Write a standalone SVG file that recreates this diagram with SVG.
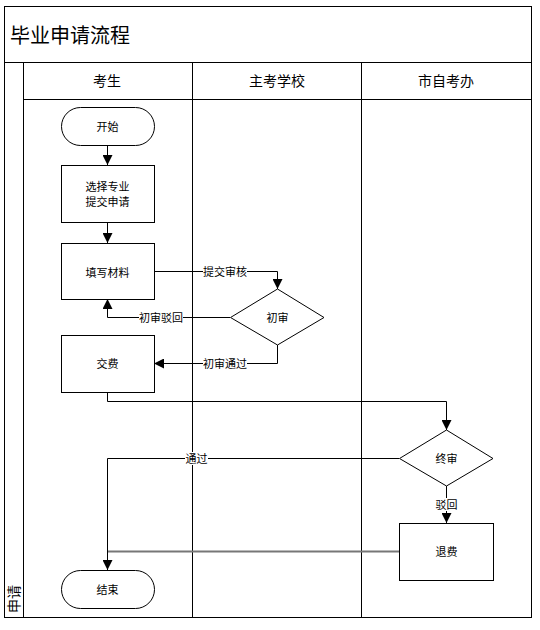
<svg xmlns="http://www.w3.org/2000/svg" width="540" height="630" viewBox="0 0 540 630">
<defs>
<marker id="arr" viewBox="0 0 10 10" refX="10" refY="5" markerWidth="10" markerHeight="10" markerUnits="userSpaceOnUse" orient="auto">
<path d="M0,0 L10,5 L0,10 Z" fill="#000"/>
</marker>
</defs>
<style>
text{font-family:"Noto Sans CJK SC","Liberation Sans",sans-serif;fill:#000}
.node{fill:#fff;stroke:#000;stroke-width:1}
.t{font-size:11px;text-anchor:middle;dominant-baseline:central}
.h{font-size:14px;text-anchor:middle;dominant-baseline:central}
.ln{fill:none;stroke:#000;stroke-width:1}
.lb{fill:#fff}
.frame{fill:none;stroke:#000;stroke-width:1}
</style>
<rect x="0" y="0" width="540" height="630" fill="#fff"/>
<g id="pool">
<rect class="frame" x="4.5" y="6.5" width="527" height="611" stroke-width="1.5"/>
<line class="frame" x1="4.5" y1="62.5" x2="531.5" y2="62.5"/>
<line class="frame" x1="23.5" y1="62.5" x2="23.5" y2="617.5"/>
<line class="frame" x1="23.5" y1="99.5" x2="531.5" y2="99.5"/>
<line class="frame" x1="192.5" y1="62.5" x2="192.5" y2="617.5"/>
<line class="frame" x1="361.5" y1="62.5" x2="361.5" y2="617.5"/>
<text x="10" y="34" font-size="20" dominant-baseline="central">毕业申请流程</text>
<text class="h" x="107" y="80">考生</text>
<text class="h" x="277" y="80">主考学校</text>
<text class="h" x="446" y="80">市自考办</text>
<text class="h" transform="translate(13,599) rotate(-90)">申请</text>
</g>
<g id="connectors">
<line class="ln" x1="107.5" y1="145" x2="107.5" y2="165" marker-end="url(#arr)"/>
<line class="ln" x1="107.5" y1="222" x2="107.5" y2="243" marker-end="url(#arr)"/>
<polyline class="ln" points="154,271.5 277.5,271.5 277.5,289" marker-end="url(#arr)"/>
<polyline class="ln" points="230,317.5 107.5,317.5 107.5,299" marker-end="url(#arr)"/>
<polyline class="ln" points="277.5,345 277.5,363.5 154,363.5" marker-end="url(#arr)"/>
<polyline class="ln" points="107.5,392 107.5,401.5 446.5,401.5 446.5,430" marker-end="url(#arr)"/>
<polyline class="ln" points="399,458.5 107.5,458.5 107.5,570" marker-end="url(#arr)"/>
<line class="ln" x1="446.5" y1="486" x2="446.5" y2="523" marker-end="url(#arr)"/>
<line x1="399" y1="551.5" x2="108" y2="551.5" stroke="#777" stroke-width="2"/>
<rect class="lb" x="203" y="265" width="44" height="13"/>
<text class="t" x="225" y="271">提交审核</text>
<rect class="lb" x="139" y="311" width="44" height="13"/>
<text class="t" x="161" y="317">初审驳回</text>
<rect class="lb" x="203" y="357" width="44" height="13"/>
<text class="t" x="225" y="363">初审通过</text>
<rect class="lb" x="185" y="452" width="23" height="13"/>
<text class="t" x="196.5" y="458">通过</text>
<rect class="lb" x="435" y="498" width="23" height="13"/>
<text class="t" x="446.5" y="504">驳回</text>
</g>
<g id="start">
<rect class="node" x="61.5" y="107.5" width="93" height="38" rx="19" ry="19"/>
<text class="t" x="107.5" y="126">开始</text>
</g>
<g id="select">
<rect class="node" x="61.5" y="165.5" width="93" height="57"/>
<text class="t" x="107.5" y="186">选择专业</text>
<text class="t" x="107.5" y="201">提交申请</text>
</g>
<g id="fill">
<rect class="node" x="61.5" y="243.5" width="93" height="56"/>
<text class="t" x="107.5" y="271.5">填写材料</text>
</g>
<g id="review1">
<polygon class="node" points="277.5,289 324,317.5 277.5,345 230.5,317.5"/>
<text class="t" x="277.5" y="317">初审</text>
</g>
<g id="pay">
<rect class="node" x="61.5" y="335.5" width="93" height="57"/>
<text class="t" x="107.5" y="363">交费</text>
</g>
<g id="review2">
<polygon class="node" points="446.5,430 493,458.5 446.5,486 399.5,458.5"/>
<text class="t" x="446.5" y="458">终审</text>
</g>
<g id="refund">
<rect class="node" x="399.5" y="523.5" width="94" height="57"/>
<text class="t" x="446.5" y="551">退费</text>
</g>
<g id="end">
<rect class="node" x="61.5" y="570.5" width="93" height="38" rx="19" ry="19"/>
<text class="t" x="107.5" y="589">结束</text>
</g>
</svg>
